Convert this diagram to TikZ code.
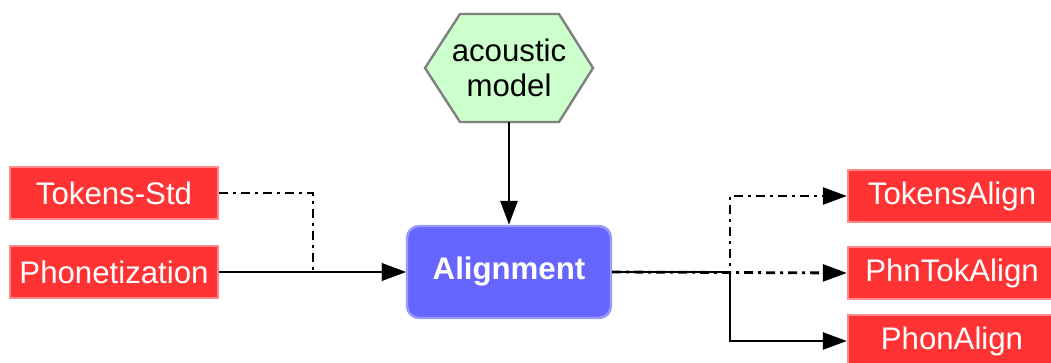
\documentclass[tikz,border=0pt]{standalone}
\usepackage{fontspec}
\setmainfont{Liberation Sans}
\usetikzlibrary{arrows.meta}
\definecolor{filered}{HTML}{FF3333}
\definecolor{fileedge}{HTML}{FF8A8A}
\definecolor{procblue}{HTML}{6666FF}
\definecolor{procedge}{HTML}{9A9AFF}
\definecolor{modelgreen}{HTML}{CCFFCC}
\definecolor{modeledge}{HTML}{808080}
\begin{document}
\begin{tikzpicture}[x=0.5pt, y=-0.5pt,
  every node/.style = {font=\fontsize{15.6}{17.5}\selectfont, align=center,
    inner sep=0pt},
  datafile/.style = {shape=rectangle, fill=filered, draw=fileedge,
    line width=1.2pt, text=white, minimum width=104pt, minimum height=26pt},
  process/.style = {shape=rectangle, rounded corners=6pt, fill=procblue,
    draw=procedge, line width=1.2pt, text=white,
    font=\fontsize{15.6}{17.5}\selectfont\bfseries,
    minimum width=102pt, minimum height=46pt},
  resource/.style = {shape=rectangle, minimum width=84pt, minimum height=54pt},
  hexagon/.style = {fill=modelgreen, draw=modeledge, line width=1.2pt},
  flow/.style = {line width=1.4pt, -{Triangle[length=12pt, width=8.5pt]}},
  optflow/.style = {flow, dash pattern=on 4.5pt off 2.5pt on 1.5pt off 2.5pt}]
  \useasboundingbox (0,0) rectangle (1051,363);
  % hexagon behind the model node
  \draw[hexagon] (425,68) -- (460,14) -- (559,14) -- (593,68)
    -- (559,122) -- (460,122) -- cycle;
  % inputs
  \node[datafile] (tokstd) at (114,193) {Tokens-Std};
  \node[datafile] (phon) at (114,272) {Phonetization};
  % resource and process
  \node[resource] (model) at (509,68) {acoustic\\model};
  \node[process] (align) at (509,272) {Alignment};
  % outputs
  \node[datafile] (tokalign) at (952,196) {TokensAlign};
  \node[datafile] (phntok) at (952,273) {PhnTokAlign};
  \node[datafile] (phonalign) at (952,341) {PhonAlign};
  \coordinate (inmerge) at (313,272);
  \coordinate (outsplit) at (730,272);
  % connectors
  \draw[optflow] (tokstd.east) -| (inmerge) -- (align.west);
  \draw[flow] (phon.east) -- (align.west);
  \draw[flow] (model.south) -- (align.north);
  \draw[optflow] (align.east) -- (outsplit) |- (tokalign.west);
  \draw[optflow] (align.east) -- (phntok.west);
  \draw[flow] (align.east) -- (outsplit) |- (phonalign.west);
\end{tikzpicture}
\end{document}
